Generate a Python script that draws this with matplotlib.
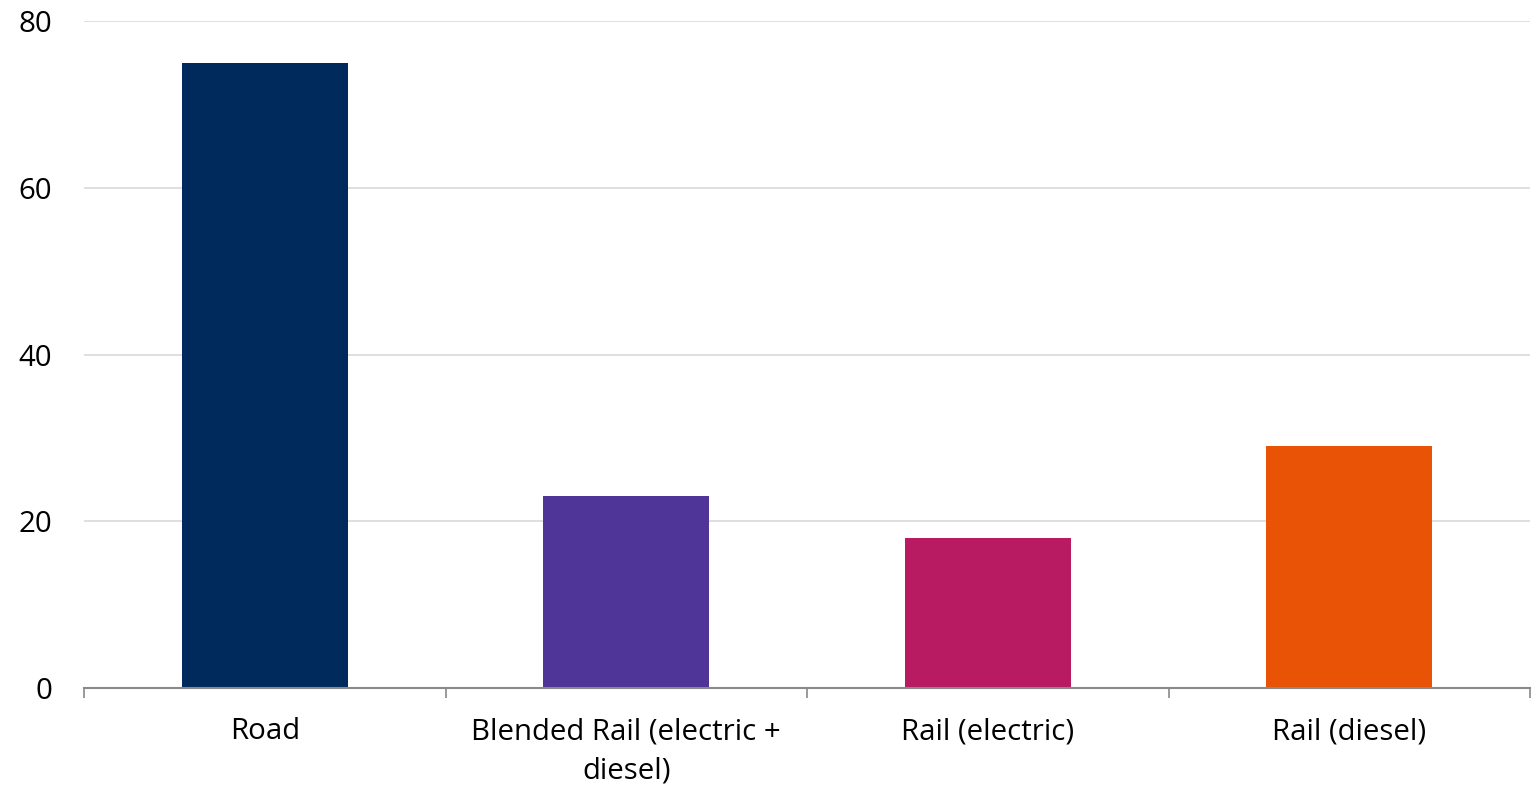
import numpy as np
import matplotlib.pyplot as plt

plt.rcParams['font.family'] = ['Open Sans', 'DejaVu Sans']

categories = ['Road', 'Blended Rail (electric +\ndiesel)', 'Rail (electric)', 'Rail (diesel)']
values = [75, 23, 18, 29]
colors = ['#002a5c', '#4f3597', '#b81b62', '#e85306']

fig = plt.figure(figsize=(15.4, 7.85), dpi=100)
ax = fig.add_axes([84 / 1540, 1 - 688 / 785, (1530 - 84) / 1540, (688 - 21) / 785])

x = np.arange(len(categories))
ax.bar(x, values, width=0.46, color=colors, zorder=3)

ax.set_xlim(-0.5, len(categories) - 0.5)
ax.set_ylim(0, 80)
ax.set_yticks([0, 20, 40, 60, 80])
ax.grid(axis='y', color='#d9d9d9', linewidth=1.2, zorder=0)

ax.set_xticks(x)
ax.set_xticklabels(categories, fontsize=21.2, linespacing=1.45)
ax.set_xticks(np.arange(-0.5, len(categories)), minor=True)
ax.tick_params(axis='x', which='major', length=0, pad=21)
ax.tick_params(axis='x', which='minor', length=7, width=1.2, color='#898989')
ax.tick_params(axis='y', length=0, pad=23, labelsize=21.2)

for s in ['top', 'right', 'left']:
    ax.spines[s].set_visible(False)
ax.spines['bottom'].set_color('#898989')
ax.spines['bottom'].set_linewidth(1.5)
ax.spines['bottom'].set_zorder(4)

fig.savefig('out.png', dpi=100, facecolor='white')
